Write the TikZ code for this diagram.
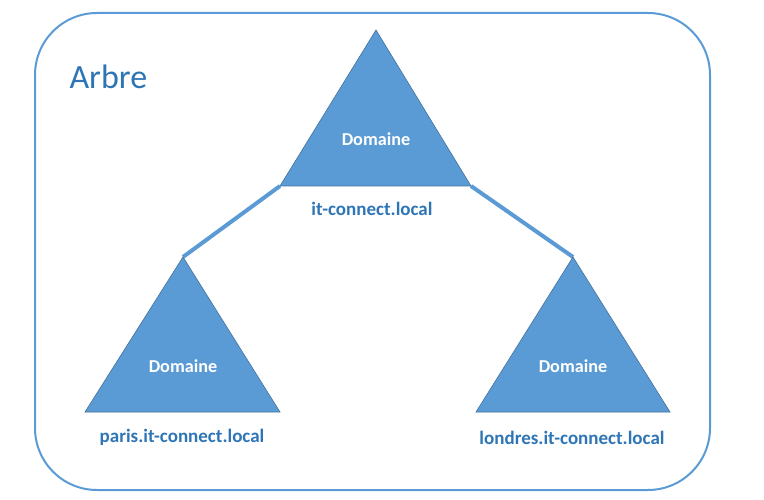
\documentclass[tikz,border=0pt]{standalone}
\usepackage{fontspec}
\setmainfont{Carlito}
\usetikzlibrary{positioning}
\definecolor{domfill}{HTML}{5B9BD5}
\definecolor{domline}{HTML}{41719C}
\definecolor{lbltext}{HTML}{2E75B6}
\tikzset{
  domtri/.style={fill=domfill, draw=domline, line width=0.6pt},
  domlabel/.style={text=white, font=\bfseries\fontsize{18.2}{20}\selectfont},
  dname/.style={text=lbltext, font=\bfseries\fontsize{19}{22}\selectfont},
  link/.style={draw=domfill, line width=4pt}
}
\begin{document}
\begin{tikzpicture}[x=1pt, y=-1pt]
\useasboundingbox (0,0) rectangle (764,500);
% cadre
\draw[domfill, line width=2pt, rounded corners=62pt] (35,13) rectangle (710,490);
\node(arbre)[text=lbltext, font=\fontsize{34}{38}\selectfont, anchor=west] at (66,77) {Arbre};
% triangles
\coordinate(itA) at (376,30);
\coordinate(itL) at (280,186);
\coordinate(itR) at (471,186);
\coordinate(parA) at (183,257);
\coordinate(parL) at (85,412);
\coordinate(parR) at (280,412);
\coordinate(lonA) at (573,257);
\coordinate(lonL) at (476,412);
\coordinate(lonR) at (670,412);
% liens
\draw[link] (itL) -- (parA);
\draw[link] (itR) -- (lonA);
\path[domtri] (itA) -- (itL) -- (itR) -- cycle;
\path[domtri] (parA) -- (parL) -- (parR) -- cycle;
\path[domtri] (lonA) -- (lonL) -- (lonR) -- cycle;
\node(itdom)[domlabel] at (376,139) {Domaine};
\node(pardom)[domlabel] at (183,366) {Domaine};
\node(londom)[domlabel] at (573,366) {Domaine};
\node(itname)[dname] at (372,209) {it-connect.local};
\node(parname)[dname] at (182,437) {paris.it-connect.local};
\node(lonname)[dname] at (572,438) {londres.it-connect.local};
\end{tikzpicture}
\end{document}
